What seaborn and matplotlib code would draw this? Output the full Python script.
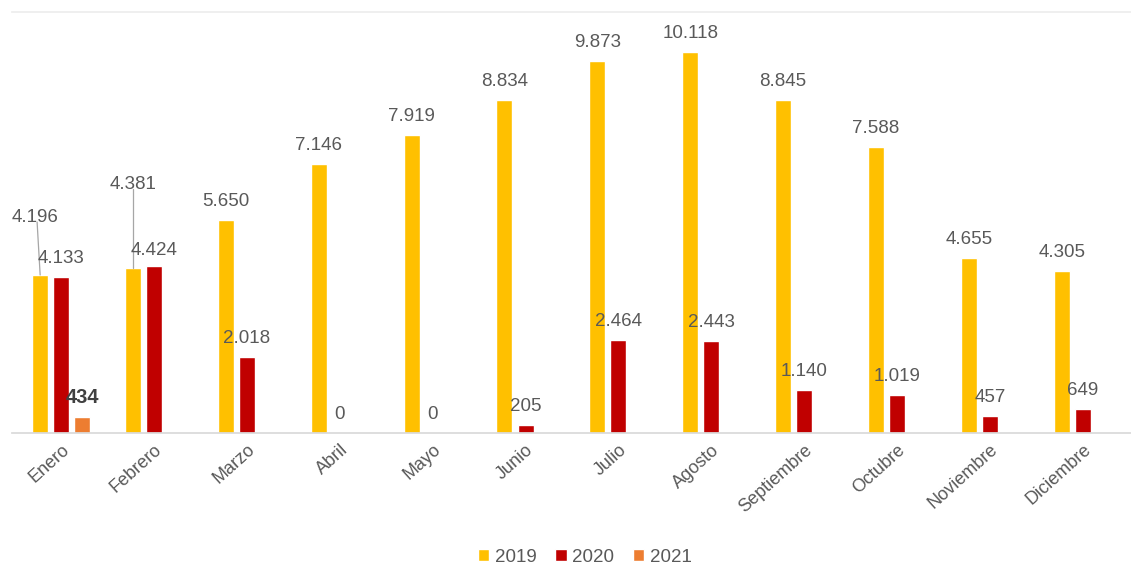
import numpy as np
import pandas as pd
import matplotlib
matplotlib.use("Agg")
import matplotlib.pyplot as plt
import seaborn as sns

months = ["Enero", "Febrero", "Marzo", "Abril", "Mayo", "Junio", "Julio",
          "Agosto", "Septiembre", "Octubre", "Noviembre", "Diciembre"]
v2019 = [4196, 4381, 5650, 7146, 7919, 8834, 9873, 10118, 8845, 7588, 4655, 4305]
v2020 = [4133, 4424, 2018, 0, 0, 205, 2464, 2443, 1140, 1019, 457, 649]
v2021 = [434, np.nan, np.nan, np.nan, np.nan, np.nan, np.nan, np.nan, np.nan, np.nan, np.nan, np.nan]
years = ["2019", "2020", "2021"]
colors = ["#FFC000", "#C00000", "#ED7D31"]

rows = []
for yr, vals in zip(years, [v2019, v2020, v2021]):
    for m, v in zip(months, vals):
        rows.append({"mes": m, "año": yr, "valor": v})
df = pd.DataFrame(rows)

sns.set_theme(style="white")
plt.rcParams["font.family"] = ["Liberation Sans", "DejaVu Sans"]
fig = plt.figure(figsize=(11.31, 5.65), dpi=100)
ax = fig.add_axes([0.0106, 0.2336, 0.9894, 0.7452])

sns.barplot(data=df, x="mes", y="valor", hue="año", order=months, hue_order=years,
            palette=colors, width=0.68, gap=0.24, ax=ax, legend=True, saturation=1)

ax.set_ylim(0, 11180)
ax.set_xlim(-0.53, 11.52)
ax.set_xlabel("")
ax.set_ylabel("")
ax.set_yticks([])
for s in ["left", "right"]:
    ax.spines[s].set_visible(False)
ax.spines["bottom"].set_color("#D9D9D9")
ax.spines["top"].set_color("#EDEDED")
ax.tick_params(axis="x", length=0, pad=6)
for lab in ax.get_xticklabels():
    lab.set_rotation(42)
    lab.set_ha("right")
    lab.set_rotation_mode("anchor")
    lab.set_color("#595959")
    lab.set_fontsize(13)

def fmt(v):
    return f"{int(v):,}".replace(",", ".")

px = 11180 / (0.7452 * 565)  # data units per pixel
label_color = "#595959"
for ci, (cont, vals) in enumerate(zip(ax.containers, [v2019, v2020, v2021])):
    for mi, (bar, v) in enumerate(zip(cont, vals)):
        if v is None or (isinstance(v, float) and np.isnan(v)):
            continue
        xc = bar.get_x() + bar.get_width() / 2
        h = bar.get_height()
        extra = 0
        dx = 0
        size = 13.5
        weight = "normal"
        col = label_color
        if ci == 0 and mi == 0:
            extra = 39
            dx = -0.055
        if ci == 0 and mi == 1:
            extra = 65
        if ci == 1 and mi == 1:
            extra = -3
        if ci == 2:
            size = 14.5
            weight = "bold"
            col = "#404040"
        ax.text(xc + dx, h + (10 + extra) * px, fmt(v), ha="center", va="bottom",
                fontsize=size, color=col, fontweight=weight)
        if extra > 0:
            ax.plot([xc + dx * 0.6, xc], [h + (4 + extra + 10) * px, h], color="#A6A6A6", lw=0.9)

leg = ax.legend(loc="upper center", bbox_to_anchor=(0.512, -0.235), ncol=3, frameon=False,
                handlelength=0.6, handleheight=0.6, handletextpad=0.3, columnspacing=1.0,
                fontsize=13.5)
for t in leg.get_texts():
    t.set_color("#595959")

fig.savefig("out.png", dpi=100)
